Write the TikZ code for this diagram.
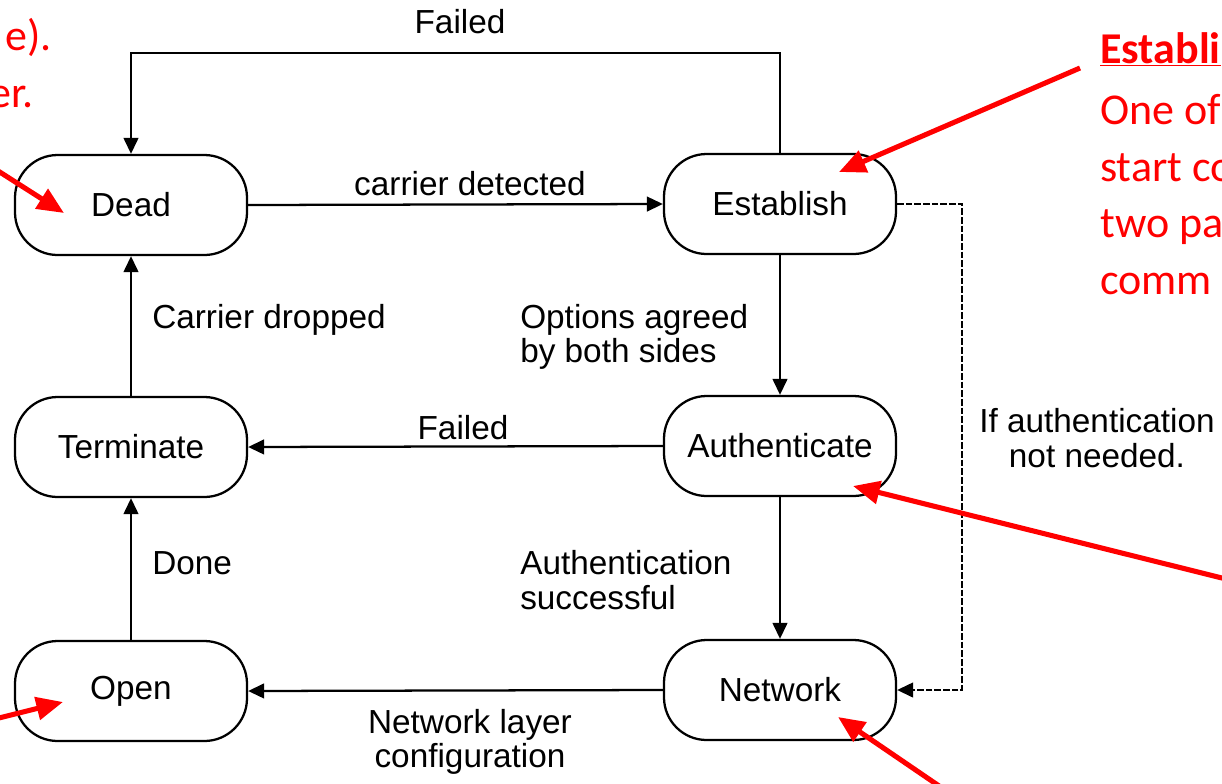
\documentclass[tikz,border=0pt]{standalone}
\usepackage{fontspec}
\setmainfont{Liberation Sans}
\newfontfamily\notefont{Carlito}
\usetikzlibrary{arrows.meta,positioning,calc}
\definecolor{notered}{RGB}{255,0,0}

\begin{document}
\begin{tikzpicture}[x=0.75pt, y=-0.75pt,
    state/.style={rectangle, rounded corners=32pt, draw=black, line width=1.7pt,
      minimum width=174pt, minimum height=75pt, font=\fontsize{25}{30}\selectfont},
    flow/.style={-{Triangle[length=12pt,width=11pt]}, line width=1.7pt},
    lbl/.style={font=\fontsize{25}{26}\selectfont, inner sep=0pt},
    note/.style={text=notered, font=\notefont\fontsize{33}{43}\selectfont, inner sep=0pt},
    pointer/.style={notered, line width=3.8pt, -{Triangle[length=20pt,width=17pt]}}
  ]
    \clip (0,0) rectangle (1222,783);
    \fill[white] (0,0) rectangle (1222,783);

    % States, left column and right column
    \node[state] (dead)         at (131,205) {Dead};
    \node[state] (establish)    at (780,204) {Establish};
    \node[state] (terminate)    at (131,447) {Terminate};
    \node[state] (authenticate) at (780,446) {Authenticate};
    \node[state] (open)         at (131,691) {Open};
    \node[state] (network)      at (780,690) {Network};

    % Transitions
    \draw[flow] (dead.east) -- (establish.west);
    \draw[flow] (establish.south) -- (authenticate.north);
    \draw[flow] (authenticate.west) -- (terminate.east);
    \draw[flow] (terminate.north) -- (dead.south);
    \draw[flow] (authenticate.south) -- (network.north);
    \draw[flow] (open.north) -- (terminate.south);
    \draw[flow] (network.west) -- (open.east);
    \draw[flow] (establish.north) -- ++(0,-100) -| (dead.north);
    \draw[flow, dash pattern=on 5pt off 1.5pt] (establish.east) -- ++(65,0) |- (network.east);

    % Transition labels
    \node[lbl] (lfailtop) at (460,22) {Failed};
    \node[lbl] (lcarrier) at (470,184) {carrier detected};
    \node[lbl, anchor=west] (ldropped) at (152,320) {Carrier dropped};
    \node[lbl, anchor=west, align=left] (lagreed) at (520,337) {Options agreed\\by both sides};
    \node[lbl] (lfailmid) at (463,428) {Failed};
    \node[lbl, anchor=west] (ldone) at (152,563) {Done};
    \node[lbl, anchor=west, align=left] (lauth) at (520,580) {Authentication\\successful};
    \node[lbl, align=center] (lconfig) at (470,742) {Network layer\\configuration};
    \node[lbl, align=center] (lskip) at (1097,438) {If authentication\\not needed.};

    % Red notes
    \node[note, anchor=base east] (noteA) at (52,50) {e).};
    \node[note, anchor=base east] (noteB) at (34,107) {er.};
    \node[note, anchor=base west, font=\notefont\bfseries\fontsize{33}{43}\selectfont] (esthead) at (1100,63) {\underline{Establi}};
    \node[note, anchor=base west] (est1) at (1100,124) {One of};
    \node[note, anchor=base west] (est2) at (1100,181) {start co};
    \node[note, anchor=base west] (est3) at (1100,237) {two pa};
    \node[note, anchor=base west] (est4) at (1100,294) {comm};

    % Red pointers
    \coordinate (deadtail) at (-5,169);
    \coordinate (deadtip)  at (64,213);
    \coordinate (esttail)  at (1080,68);
    \coordinate (esttip)   at (839,172);
    \coordinate (opentail) at (-5,719);
    \coordinate (opentip)  at (63,702);
    \coordinate (authtail) at (1230,580);
    \coordinate (authtip)  at (853,486);
    \coordinate (nettail)  at (945,790);
    \coordinate (nettip)   at (838,717);
    \draw[pointer] (deadtail) -- (deadtip);
    \draw[pointer] (esttail) -- (esttip);
    \draw[pointer] (opentail) -- (opentip);
    \draw[pointer] (authtail) -- (authtip);
    \draw[pointer] (nettail) -- (nettip);
\end{tikzpicture}
\end{document}
